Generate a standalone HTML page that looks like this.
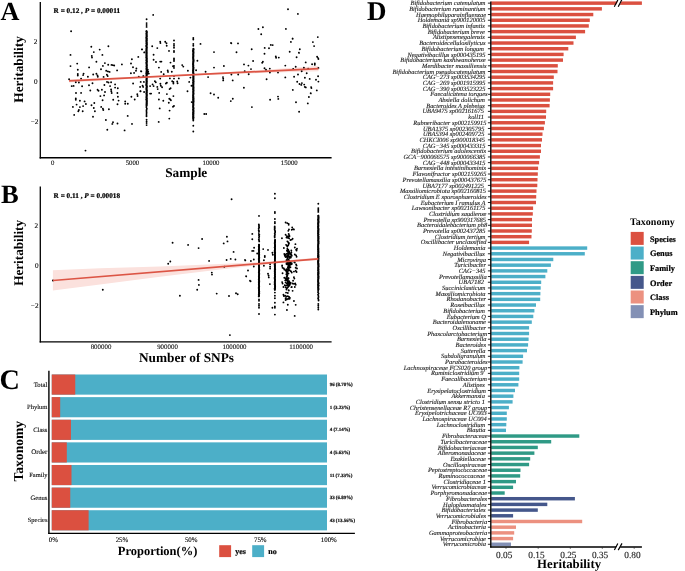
<!DOCTYPE html>
<html lang="en">
<head>
<meta charset="utf-8">
<title>Heritability figure</title>
<style>
html,body{margin:0;padding:0;background:#fff;}
body{width:685px;height:571px;overflow:hidden;}
svg{display:block;font-family:"Liberation Serif", serif;text-rendering:geometricPrecision;}
text{white-space:pre;}
</style>
</head>
<body>
<svg width="685" height="571" viewBox="0 0 685 571">
<rect x="0" y="0" width="685" height="571" fill="#fff"/>
<g id="panelA">
<text x="0.4" y="19.7" font-size="26.2" font-weight="bold" font-style="normal" text-anchor="start" fill="#000">A</text>
<polygon points="69.1,79.30 120,77.39 170,75.22 215,72.80 260,69.99 318.5,66.00 318.5,71.20 260,72.99 215,74.60 170,76.62 120,79.39 69.1,82.50" fill="#FBE1DD"/>
<path d="M71.1 31.3h0M70.5 54.9h0M70.5 66.1h0M77.2 63.6h0M77.8 69.7h0M77.8 74h0M77.8 75.5h0M83.6 73.6h0M83.1 75.1h0M87.9 76.7h0M81.1 78.6h0M69.1 79.3h0M89.1 67.4h0M91.3 46.8h0M93.8 52.1h0M91.8 55.9h0M92 57.6h0M96.4 61.8h0M99.7 49.6h0M102.4 54.9h0M108.4 46.2h0M104.9 63.1h0M102.9 65.9h0M101 69.2h0M93.2 74.5h0M96.4 73.8h0M97.5 75.5h0M97.8 76.7h0M103.6 76.9h0M106.2 70.8h0M107.9 71.4h0M109.6 71.9h0M106.9 74.8h0M107.7 76.1h0M108.2 64.7h0M111.5 64.9h0M112.7 65.1h0M114.2 65.5h0M117.1 70.4h0M121.9 64.4h0M131 63.5h0M131.9 59.3h0M133 67.3h0M136.4 68.5h0M136 70.7h0M130.9 73.3h0M134.1 72.9h0M138.3 56.9h0M142.1 49.4h0M144.2 52.4h0M141 71.3h0M138.8 76.7h0M143.2 76.1h0M75.8 82.3h0M78.9 82.5h0M71.7 86.1h0M73.6 85.9h0M82.1 86.3h0M89 85.3h0M92.5 83.2h0M76 93h0M81.1 92.9h0M90.3 90.5h0M97.6 89.8h0M98.5 90.7h0M101.9 89.8h0M104.4 85h0M105 92h0M107 81.9h0M108.5 82.5h0M111.1 82.3h0M110.1 86.1h0M111.1 89.5h0M111.3 91.3h0M111.7 93h0M115.1 84.4h0M115.1 87.6h0M117.8 88.2h0M117.4 93h0M117.9 96.8h0M118.6 100.6h0M117.5 104.3h0M113.2 99.8h0M104.1 95.4h0M100.4 96.1h0M102.6 100.2h0M75.8 98.5h0M75.8 99.8h0M79.9 100.8h0M84.6 101.4h0M85.9 104h0M76.6 104.6h0M72.9 106.9h0M79.9 107.1h0M83.1 106.1h0M78.9 110h0M78.3 111.3h0M82.7 111.3h0M74.2 114.9h0M94.3 103h0M91.5 105.2h0M93.8 108h0M94.9 111.3h0M93 116.8h0M101.2 106.9h0M102.9 108.8h0M103.3 110h0M108.9 109.3h0M105.9 120h0M113 122.2h0M112.3 123.9h0M117.5 123.5h0M107.3 129.8h0M124.6 130.4h0M127.7 115.9h0M125.2 101.4h0M125.2 103.7h0M127.8 103.7h0M131.4 96.8h0M134.7 99.5h0M137.3 94.2h0M137.6 96h0M133.1 83.5h0M140.3 91.3h0M144.1 92h0M140.7 81.9h0M143.9 81.9h0M140.1 86.9h0M142.6 85.7h0M143.2 86.9h0M132 123.9h0M85.5 150.6h0M153.2 14.9h0M141.9 49.4h0M144.4 52.4h0M152.2 46.2h0M157.3 48.1h0M160.2 41.8h0M160.4 43.1h0M165.2 41.8h0M166.5 43.3h0M166.7 45.8h0M169 50.9h0M153.6 54.7h0M153.6 59.7h0M156 62h0M160.2 61.6h0M161.4 61.6h0M170.5 62.6h0M158.9 67.6h0M161.2 71.9h0M163.7 74.2h0M167.7 70.4h0M168 71.9h0M171.8 71.7h0M173 66.3h0M182.2 65.1h0M183.3 66.6h0M187.9 70.7h0M141.3 71.4h0M147.8 69.8h0M148.2 71.7h0M147.8 73.6h0M148.8 73.6h0M143.5 76.1h0M160.2 78.6h0M169.9 78.4h0M178.8 78.4h0M190.4 77.6h0M196.1 70.2h0M197.4 60.7h0M200.5 43.9h0M205.6 71.7h0M208.1 77.1h0M214 52.1h0M214 67.6h0M223.9 66h0M223 77.1h0M223.2 78.6h0M140.6 91.3h0M150.1 86.1h0M152.6 84.4h0M153.6 86.1h0M154.9 81.3h0M155.8 82.3h0M150.1 93.6h0M151.1 93.6h0M157.3 86.9h0M157.7 89.1h0M160.4 83.8h0M160.8 85.7h0M162.1 87.3h0M165.9 83.5h0M166.9 82.8h0M170.6 88.2h0M169.6 89.1h0M172.2 81.3h0M173.4 81.9h0M173.4 83.5h0M177.2 81.5h0M177.6 83.2h0M159.2 92.9h0M166.9 94.1h0M173.4 96.1h0M158.9 99.5h0M163.3 100.8h0M169.3 98.7h0M170.3 99.5h0M170.9 100.2h0M168.8 102.7h0M174 105.9h0M173 106.7h0M159.7 108.4h0M169.6 110.6h0M169.3 118.6h0M158.7 121.9h0M189.2 81.9h0M187.5 91.3h0M191.5 85.7h0M191.7 102.1h0M210.6 93.2h0M214 94.5h0M218.2 97.7h0M204.3 114h0M206.2 114h0M223.2 80.4h0M288 9.2h0M297.9 13.9h0M262.9 27.2h0M258.4 29h0M285.9 28.9h0M261.2 34.2h0M292.6 38.7h0M290.9 41.9h0M231 42.9h0M231.3 43.2h0M238 43.4h0M270.8 44.9h0M272.7 45.1h0M264.7 47.9h0M269 48.2h0M251.7 49.2h0M299.8 49.2h0M236.5 52.3h0M289.7 51.8h0M298.9 52.7h0M264.5 53.7h0M275.8 56.4h0M276.1 57.8h0M278.8 57.6h0M296.6 57.3h0M253.1 61h0M262.9 61.8h0M262.2 62.7h0M305.7 62.4h0M244 64.4h0M248.4 65.6h0M285.3 65.6h0M295.7 66.7h0M251 69.1h0M264.5 68.2h0M266 69.7h0M269.8 68.6h0M244.7 71.2h0M293.2 69h0M303.9 67.8h0M308.2 68.7h0M301.7 71.2h0M231.4 74.5h0M238.2 74.5h0M248.7 74.3h0M269.9 72.6h0M278 72.6h0M232.7 80.4h0M266.6 79.2h0M285.3 77.4h0M294.1 76.8h0M298 74.5h0M306.7 73.3h0M304.9 77.7h0M309.7 78.9h0M243.9 87.8h0M297.2 81.8h0M299.5 84h0M301.3 84.9h0M301.9 83.1h0M304.2 84.6h0M304.8 86.9h0M305.8 87.4h0M311.1 87.1h0M311.4 88.1h0M292.8 89.9h0M310.7 93.2h0M308.9 97h0M278 96.6h0M278.3 98.9h0M270.1 99.7h0M232.8 98.7h0M230.8 101.1h0M296 102.3h0M307.8 103.4h0M251.9 107.1h0M299.1 111.7h0M317.8 37.1h0M292.7 38.7h0M312.9 42.1h0M314.1 46.1h0M299 52.9h0M317.1 56.8h0M318.1 58.1h0M318.4 59h0M312.1 64.2h0M314.8 63.4h0M314.8 64.7h0M318.4 67.9h0M318.1 76.2h0M316 79.7h0M318.4 81.6h0M316.8 90.4h0M310.8 93.4h0M146.38 31.3h0M146.81 32.05h0M146.76 32.8h0M146.45 33.55h0M146.6 34.3h0M146.57 35.05h0M146.69 35.8h0M146.77 36.55h0M146.36 37.3h0M146.32 38.05h0M146.8 38.8h0M146.56 39.55h0M146.76 40.3h0M146.3 41.05h0M146.57 41.8h0M146.73 42.55h0M146.44 43.3h0M146.87 44.05h0M146.84 44.8h0M146.32 45.55h0M146.32 46.3h0M146.62 47.05h0M146.86 47.8h0M146.53 48.55h0M146.43 49.3h0M146.55 50.05h0M146.32 50.8h0M146.43 51.55h0M146.56 52.3h0M146.6 53.05h0M146.44 53.8h0M146.44 54.55h0M146.43 55.3h0M146.58 56.05h0M146.47 56.8h0M146.31 57.55h0M146.8 58.3h0M146.63 59.05h0M146.69 59.8h0M146.41 60.55h0M146.9 61.3h0M146.82 62.05h0M146.37 62.8h0M146.5 63.55h0M146.73 64.3h0M146.73 65.05h0M146.86 65.8h0M146.55 66.55h0M146.8 67.3h0M146.7 68.05h0M146.48 68.8h0M146.65 69.55h0M146.83 70.3h0M146.81 71.05h0M146.6 71.8h0M146.65 72.55h0M146.32 73.3h0M146.45 74.05h0M146.78 74.8h0M146.55 75.55h0M146.4 76.3h0M146.63 77.05h0M146.72 77.8h0M146.7 78.55h0M146.52 79.3h0M146.56 80.05h0M146.61 80.8h0M146.77 81.55h0M146.61 82.3h0M146.54 83.05h0M146.59 83.8h0M146.32 84.55h0M146.33 85.3h0M146.72 86.05h0M146.89 86.8h0M146.66 87.55h0M146.54 88.3h0M146.4 89.05h0M146.6 89.8h0M146.89 90.55h0M146.76 91.3h0M146.62 92.05h0M146.82 92.8h0M146.44 93.55h0M146.61 94.3h0M146.87 95.05h0M146.65 95.8h0M146.58 96.55h0M146.46 97.3h0M146.63 98.05h0M146.87 98.8h0M146.3 99.55h0M146.77 100.3h0M146.79 101.05h0M146.83 101.8h0M146.74 102.55h0M146.79 103.3h0M146.61 104.05h0M146.64 104.8h0M146.56 105.8h0M146.33 107.1h0M146.82 108.4h0M146.64 109.7h0M146.42 111h0M146.6 112.3h0M146.59 113.6h0M146.51 114.9h0M146.51 116.2h0M146.6 19.3h0M146.6 23.1h0M146.6 25h0M146.6 26.9h0M146.6 119.7h0M146.6 121.6h0M146.6 123.1h0M146.6 125.1h0M174 40.5h0M174 43.9h0M174 45.8h0M174 47.7h0M174 50.9h0M174 52.1h0M174 58.4h0M174 59.7h0M174 61h0M174 66h0M174 67.9h0M174 76.1h0M174 78.6h0M193.57 49h0M193.57 49.75h0M193.03 50.5h0M193.05 51.25h0M193.5 52h0M193.44 52.75h0M193.4 53.5h0M193.18 54.25h0M193.36 55h0M193.36 55.75h0M193.35 56.5h0M193.1 57.25h0M193.26 58h0M193.24 58.75h0M193.43 59.5h0M193.6 60.25h0M193.57 61h0M193.33 61.75h0M193.27 62.5h0M193.16 63.25h0M193.02 64h0M193.02 64.75h0M193.28 65.5h0M193.19 66.25h0M193.23 67h0M193.54 67.75h0M193.32 68.5h0M193.34 69.25h0M193.14 70h0M193.01 70.75h0M193.2 71.5h0M193.08 72.25h0M193.31 73h0M193.6 73.75h0M193.4 74.5h0M193.11 75.25h0M193.54 76h0M193.48 76.75h0M193.44 77.5h0M193.54 78.25h0M193.46 79h0M193.47 79.75h0M193.21 80.5h0M193.59 81.25h0M193.58 82h0M193.1 82.75h0M193.45 83.5h0M193.43 84.25h0M193.28 85h0M193.32 85.75h0M193.29 86.5h0M193.55 87.25h0M193.3 88h0M193.5 88.75h0M193.21 89.5h0M193.53 90.25h0M193.54 91h0M193.28 91.75h0M193.34 92.5h0M193.55 93.25h0M193.43 94h0M193.29 94.75h0M193.13 95.5h0M193.19 96.25h0M193.42 97h0M193.1 97.75h0M193.54 98.5h0M193.16 99.25h0M193.55 100h0M193.19 100.75h0M193.57 101.5h0M193.42 102.25h0M193.3 103h0M193.31 103.75h0M193.39 104.5h0M193.35 105.25h0M193.19 106h0M193.12 106.75h0M193.31 107.5h0M193.56 108.25h0M193.37 109h0M193.05 109.75h0M193.49 110.5h0M193.44 111.25h0M193.54 112h0M193.11 112.75h0M193.45 113.5h0M193.04 114.25h0M193.39 115h0M193.16 115.75h0M193.14 116.5h0M193.53 117.25h0M193.06 118h0M193.31 118.75h0M193.3 38h0M193.3 39.5h0M193.3 43.9h0M193.3 45.8h0M193.3 120.6h0M193.3 125.8h0M193.3 131.5h0" stroke="#000" stroke-width="1.9" stroke-linecap="round" fill="none"/>
<line x1="146.6" y1="31" x2="146.6" y2="105.5" stroke="#000" stroke-width="1.7" stroke-linecap="round"/>
<line x1="193.3" y1="48.7" x2="193.3" y2="119.4" stroke="#000" stroke-width="1.7" stroke-linecap="round"/>
<line x1="69.1" y1="80.9" x2="318.5" y2="68.6" stroke="#DC5545" stroke-width="1.7" stroke-linecap="butt"/>
<line x1="40.3" y1="1.9" x2="40.3" y2="158.4" stroke="#000" stroke-width="1.3" stroke-linecap="butt"/>
<line x1="39.65" y1="157.75" x2="331.6" y2="157.75" stroke="#000" stroke-width="1.3" stroke-linecap="butt"/>
<text x="37.4" y="43.7" font-size="7.2" font-weight="normal" font-style="normal" text-anchor="end" fill="#000" stroke="#000" stroke-width="0.12">2</text>
<text x="37.7" y="83.9" font-size="7.2" font-weight="normal" font-style="normal" text-anchor="end" fill="#000" stroke="#000" stroke-width="0.12">0</text>
<text x="38.4" y="123.8" font-size="7.2" font-weight="normal" font-style="normal" text-anchor="end" fill="#000" stroke="#000" stroke-width="0.12">−2</text>
<text x="52.6" y="165.1" font-size="6.75" font-weight="normal" font-style="normal" text-anchor="middle" fill="#111" stroke="#111" stroke-width="0.12">0</text>
<text x="132.4" y="165.1" font-size="6.75" font-weight="normal" font-style="normal" text-anchor="middle" fill="#111" stroke="#111" stroke-width="0.12">5000</text>
<text x="211" y="165.1" font-size="6.75" font-weight="normal" font-style="normal" text-anchor="middle" fill="#111" stroke="#111" stroke-width="0.12">10000</text>
<text x="289.3" y="165.1" font-size="6.75" font-weight="normal" font-style="normal" text-anchor="middle" fill="#111" stroke="#111" stroke-width="0.12">15000</text>
<text x="23.5" y="69.4" font-size="13.3" font-weight="bold" font-style="normal" text-anchor="middle" fill="#000" transform="rotate(-90 23.5 69.4)">Heritability</text>
<text x="186.2" y="176.8" font-size="13.3" font-weight="bold" font-style="normal" text-anchor="middle" fill="#000">Sample</text>
<text x="53.6" y="13.2" font-size="7.25" font-weight="bold" stroke="#000" stroke-width="0.22">R = 0.12 , <tspan font-style="italic">P</tspan> = 0.00011</text>
</g>
<g id="panelB">
<text x="0.9" y="202.9" font-size="26.5" font-weight="bold" font-style="normal" text-anchor="start" fill="#000">B</text>
<polygon points="52.9,270.20 100,268.15 160,266.54 220,264.04 260,261.97 290,260.11 318.3,257.40 318.3,260.20 290,262.11 260,265.17 220,269.54 160,276.74 100,284.55 52.9,290.60" fill="#FBE1DD"/>
<path d="M231.6 199.3h0M52.9 280.5h0M102.8 289.8h0M172.6 242.8h0M188.1 244.9h0M202.1 239h0M198.6 248.1h0M168.2 263.8h0M170.3 261.5h0M209.1 260.9h0M226.9 236.7h0M227.5 241.4h0M223.7 243.4h0M233.6 251.9h0M226.6 260h0M230.7 258.9h0M235.4 259.5h0M245 260h0M224.3 266.8h0M211.8 272.6h0M212 274.6h0M198.6 279.9h0M198.9 284.9h0M197.2 289.8h0M179.9 295.7h0M216.7 293.6h0M229 296h0M236 293.3h0M237.7 294.2h0M248 270.5h0M246.2 276.4h0M250 280.8h0M229.9 335.1h0M252.3 233.9h0M252.3 239.3h0M254.1 247.8h0M252.2 250.9h0M253.5 250.9h0M263.2 249.1h0M268 249.9h0M257.2 253.5h0M264.8 256h0M272.4 252.8h0M272.8 254.7h0M245.3 260.4h0M250.9 261h0M253.8 259.5h0M253.8 266.5h0M248 270.6h0M246.1 276.2h0M250.6 281.3h0M263.9 260.2h0M264.8 257h0M263.9 265.8h0M270.1 264.2h0M270.1 266.7h0M270.1 268.6h0M268 273.7h0M268.6 275.5h0M268.8 277.4h0M269.9 284.1h0M272.4 307.7h0M258.84 224.5h0M259.03 225.3h0M258.92 226.1h0M259.06 226.9h0M259.08 227.7h0M258.74 228.5h0M258.71 230.3h0M259.2 231.1h0M258.86 231.9h0M258.84 234h0M259.3 234.8h0M258.98 235.6h0M259.2 236.4h0M258.99 237.2h0M259.08 239h0M258.79 239.8h0M259.08 240.6h0M259.22 241.4h0M259.01 244.6h0M259.14 245.35h0M259.1 246.1h0M258.74 246.85h0M259.15 247.6h0M259.05 248.35h0M258.88 249.1h0M258.72 249.85h0M259.22 250.6h0M258.98 251.35h0M259.13 252.1h0M259.23 252.85h0M259.13 253.6h0M259.25 254.35h0M258.94 255.1h0M259.18 255.85h0M258.97 256.6h0M259.26 257.35h0M259.23 258.1h0M258.76 258.85h0M258.78 259.6h0M258.83 260.35h0M259.28 261.1h0M258.96 261.85h0M259.08 262.6h0M258.88 263.35h0M259 264.1h0M258.93 264.85h0M258.91 265.6h0M259.05 266.35h0M259.05 267.1h0M259.24 267.85h0M259.11 268.6h0M259.26 269.35h0M259.21 270.1h0M259.29 270.85h0M259.1 271.6h0M258.8 272.35h0M259.22 273.1h0M259.28 273.85h0M259.24 274.6h0M259.04 275.35h0M259.13 276.1h0M258.83 276.85h0M259.2 277.6h0M259.04 278.35h0M258.87 279.1h0M258.74 279.85h0M259.21 280.6h0M259.29 281.35h0M258.75 282.1h0M259.18 282.85h0M258.95 283.6h0M258.79 284.35h0M258.88 285.1h0M259.16 285.85h0M259.22 286.6h0M258.73 287.35h0M259.07 288.1h0M258.73 288.85h0M259.13 289.6h0M258.9 290.35h0M259.23 291.1h0M259.29 291.85h0M259 292.6h0M259.3 293.35h0M258.89 294.1h0M258.75 294.85h0M259.06 295.6h0M258.72 296.35h0M259 215.9h0M259 299.5h0M259 300.8h0M259 303.9h0M259 305.8h0M259 307.7h0M259 314h0M274.74 226.4h0M274.66 227.2h0M274.84 228h0M274.69 228.8h0M274.64 229.6h0M274.84 230.4h0M275.15 231.2h0M275.08 232h0M275.06 232.8h0M274.73 233.6h0M274.92 234.4h0M274.77 235.2h0M274.7 236h0M274.66 236.8h0M274.73 237.6h0M275.16 240h0M275.1 240.75h0M275.08 241.5h0M275.08 242.25h0M274.72 243h0M274.79 243.75h0M274.98 244.5h0M275.04 245.25h0M275.11 246h0M275.13 246.75h0M274.65 247.5h0M274.96 248.25h0M275 249h0M274.9 249.75h0M274.71 250.5h0M274.88 251.25h0M274.65 252h0M275.16 252.75h0M275.12 253.5h0M274.93 254.25h0M274.78 255h0M275.15 255.75h0M274.94 256.5h0M275.13 257.25h0M275.11 258h0M274.91 258.75h0M274.85 259.5h0M274.96 260.25h0M274.86 261h0M274.7 261.75h0M274.78 262.5h0M275.09 263.25h0M274.63 264h0M274.63 264.75h0M274.98 265.5h0M274.77 266.25h0M274.92 267h0M274.88 267.75h0M274.81 268.5h0M275.2 269.25h0M274.72 270h0M274.85 270.75h0M274.72 271.5h0M274.98 272.25h0M274.77 273h0M274.81 273.75h0M275.05 274.5h0M274.79 275.25h0M274.94 276h0M275.14 276.75h0M274.66 277.5h0M274.64 278.25h0M274.74 279h0M275.06 279.75h0M274.97 280.5h0M274.74 281.25h0M274.8 282h0M274.71 282.75h0M274.88 283.5h0M274.63 284.25h0M275.02 285h0M275.14 285.75h0M275.17 286.5h0M275.04 287.25h0M275.18 288h0M274.61 288.75h0M274.77 289.5h0M274.9 193.8h0M274.9 198.2h0M274.9 211.9h0M274.9 213.1h0M274.9 219h0M274.9 221.9h0M274.9 223.2h0M274.9 292.6h0M274.9 295.7h0M274.9 298.2h0M274.9 302.7h0M274.9 306.4h0M274.9 307.7h0M274.9 314.6h0M318.37 215.6h0M318.45 216.3h0M318.48 217h0M318.57 217.7h0M318.44 218.4h0M318.55 219.1h0M318.02 219.8h0M318.28 220.5h0M318.57 221.2h0M318.39 221.9h0M318.54 222.6h0M318.07 223.3h0M318.28 224h0M318.15 224.7h0M318.33 225.4h0M318.34 226.1h0M318.01 226.8h0M318.13 227.5h0M318.17 228.2h0M318.55 228.9h0M318.46 229.6h0M318.1 230.3h0M318.48 231h0M318.08 231.7h0M318.37 232.4h0M318.08 233.1h0M318 233.8h0M318.52 234.5h0M318.13 235.2h0M318.13 235.9h0M318.59 236.6h0M318.52 237.3h0M318.17 238h0M318.58 238.7h0M318.32 239.4h0M318.41 240.1h0M318.12 240.8h0M318.56 241.5h0M318.41 242.2h0M318.58 242.9h0M318.54 243.6h0M318.18 244.3h0M318.22 245h0M318.1 245.7h0M318.09 246.4h0M318.04 247.1h0M318.18 247.8h0M318.36 248.5h0M318 249.2h0M318.41 249.9h0M318.2 250.6h0M318.19 251.3h0M318.49 252h0M318.29 252.7h0M318.19 253.4h0M318.29 254.1h0M318.42 254.8h0M318.03 255.5h0M318.59 256.2h0M318.01 256.9h0M318.45 257.6h0M318.51 258.3h0M318.01 259h0M318.47 259.7h0M318.22 260.4h0M318.35 261.1h0M318.01 261.8h0M318.03 262.5h0M318.11 263.2h0M318.57 263.9h0M318.12 264.6h0M318.45 265.3h0M318.56 266h0M318.57 266.7h0M318.21 267.4h0M318.21 268.1h0M318.31 268.8h0M318.47 269.5h0M318.06 270.2h0M318.45 270.9h0M318.48 271.6h0M318.52 272.3h0M318.02 273h0M318.57 273.7h0M318.05 274.4h0M318.2 275.1h0M318.37 275.8h0M318.55 276.5h0M318.2 277.2h0M318.55 277.9h0M318.33 278.6h0M318.19 279.3h0M318.19 280h0M318.11 280.7h0M318.05 281.4h0M318.09 282.1h0M318.41 282.8h0M318.6 283.5h0M318.1 284.2h0M318.03 284.9h0M318.59 285.6h0M318.32 286.3h0M318.24 287h0M318.14 287.7h0M318.36 288.4h0M318.5 289.1h0M318.27 289.8h0M318.25 291h0M318.03 292.2h0M318.55 293.4h0M318.02 294.6h0M318.3 295.8h0M318.5 297h0M318.08 298.2h0M318.44 299.4h0M318.57 300.6h0M318.3 203.7h0M318.3 208.1h0M318.3 209.3h0M318.3 210.6h0M318.3 211.9h0M318.3 303.9h0M318.3 305.8h0M318.3 307.7h0M318.3 309.6h0M285.62 222.56h0M287.37 223.17h0M288.69 223.87h0M288.69 224.75h0M292.19 227.37h0M293.06 229.12h0M291.75 229.82h0M293.94 229.56h0M288.95 229.56h0M288.25 230.87h0M285.62 234.81h0M288.69 233.94h0M289.12 235.25h0M286.94 236.12h0M288.25 236.56h0M289.56 236.12h0M286.5 237.43h0M287.81 237.87h0M289.12 238.31h0M281.95 238.31h0M292.62 238.75h0M291.75 239.62h0M290.44 240.06h0M287.37 241.37h0M288.25 242.25h0M289.12 243.12h0M288.69 244h0M295.42 244.17h0M286.06 244.87h0M286.94 245.75h0M288.25 245.31h0M287.37 246.62h0M283.87 247.93h0M294.81 247.5h0M297 248.81h0M296.12 249.68h0M296.56 250.56h0M287.37 248.81h0M288.25 249.68h0M286.94 250.56h0M288.69 251h0M287.81 251.87h0M289.12 251.43h0M291.31 250.56h0M294.81 254.5h0M296.12 255.37h0M296.56 256.68h0M284.31 254.06h0M285.62 254.5h0M286.94 253.62h0M288.25 254.5h0M290 254.06h0M291.31 254.5h0M284.75 255.81h0M286.5 256.24h0M288.25 255.81h0M290 256.24h0M291.75 255.81h0M285.62 257.12h0M287.37 257.56h0M289.12 257.12h0M290.87 257.56h0M287.37 258.87h0M288.69 259.31h0M286.5 260.18h0M289.12 260.62h0M287.81 261.49h0M287.81 262.81h0M289.12 263.68h0M290.44 263.24h0M291.75 264.12h0M294.37 262.37h0M296.12 264.56h0M282.12 265.43h0M286.5 264.12h0M288.69 264.99h0M282.12 265.94h0M282.56 267.69h0M283.87 268.56h0M287.37 264.62h0M288.69 265.94h0M290 265.06h0M291.31 264.19h0M287.81 267.25h0M289.12 268.12h0M290.44 267.25h0M294.81 262.44h0M296.56 265.5h0M295.69 267.69h0M297 268.56h0M287.37 262.44h0M289.12 262.87h0M290.44 262.44h0M286.5 263.31h0M291.75 263.31h0M288.25 263.75h0M284.31 269.44h0M285.62 270.31h0M286.94 269.87h0M288.25 270.75h0M289.56 270.31h0M290.87 271.19h0M291.75 272.5h0M282.56 273.2h0M286.5 272.06h0M287.37 272.94h0M293.94 271.62h0M295.69 270.75h0M296.56 272.06h0M286.94 274.25h0M287.37 275.56h0M286.94 276.87h0M284.31 277.75h0M285.62 278.19h0M286.94 278.19h0M288.25 278.62h0M293.94 277.31h0M294.37 278.62h0M285.19 280.37h0M286.5 279.94h0M287.81 280.81h0M289.12 281.25h0M282.12 282.12h0M282.56 283.43h0M285.62 282.56h0M286.94 283.43h0M288.25 283h0M289.56 282.56h0M290.44 283.87h0M293.06 280.81h0M292.62 283.43h0M293.94 283.87h0M295.25 283.43h0M295.69 284.75h0M284.75 285.18h0M286.06 285.62h0M287.37 285.18h0M288.69 286.06h0M289.56 285.18h0M283.44 286.93h0M285.62 287.37h0M286.94 288.25h0M286.5 289.56h0M291.75 286.93h0M294.81 286.93h0M292.62 290.87h0M286.06 292.62h0M287.81 293.06h0M283.44 294.81h0M283.87 296.12h0M285.19 295.68h0M286.5 296.56h0M287.81 296.12h0M289.12 297h0M290 297.87h0M285.62 298.31h0M286.94 299.18h0M288.25 298.75h0M289.56 298.75h0M285.62 300.06h0M293.94 300.93h0M283.44 302.42h0M287.81 304.69h0M295.69 304.87h0M286.94 309.94h0M294.7 315.9h0M286.45 289.18h0M288.22 278.18h0M286.34 271.43h0M287.73 279.29h0M286.46 269.26h0M286.38 274.28h0M289.49 283.64h0M288.88 268.01h0M290.63 282.69h0M287.48 281.77h0M287.91 279.68h0M287.96 268.43h0M288.1 267.72h0M288.56 278.13h0M285.83 279.46h0M288.57 282.37h0M286.18 277.98h0M287.8 273.68h0M291.43 287.17h0M287.75 283.99h0M287.48 273.94h0M288.53 268.69h0M287.91 287.32h0M286.69 276.28h0M289.86 267.01h0M287.24 272.03h0M288.85 290.53h0M287.14 276.54h0M289.19 285.68h0M288.49 273.47h0M288.64 290.14h0M288.31 285.19h0M288.41 269.43h0M288.36 268.44h0M288.44 256.71h0M287.42 255.37h0M288.97 251.57h0M290.16 257.72h0M289.21 252.55h0M289.11 253.24h0M290.51 253.65h0M287.77 260.62h0M288.52 260.25h0M289.46 257.7h0M291.36 252.56h0M290.51 253.1h0M288.36 253.56h0M287.05 250.88h0" stroke="#000" stroke-width="1.9" stroke-linecap="round" fill="none"/>
<line x1="259.0" y1="244.6" x2="259.0" y2="296.4" stroke="#000" stroke-width="1.7" stroke-linecap="round"/>
<line x1="274.9" y1="240" x2="274.9" y2="290" stroke="#000" stroke-width="1.7" stroke-linecap="round"/>
<line x1="318.3" y1="215.6" x2="318.3" y2="290" stroke="#000" stroke-width="1.7" stroke-linecap="round"/>
<line x1="52.9" y1="280.5" x2="318.3" y2="258.8" stroke="#DC5545" stroke-width="1.7" stroke-linecap="butt"/>
<line x1="40.3" y1="186.6" x2="40.3" y2="342.45" stroke="#000" stroke-width="1.3" stroke-linecap="butt"/>
<line x1="39.65" y1="341.8" x2="331.6" y2="341.8" stroke="#000" stroke-width="1.3" stroke-linecap="butt"/>
<text x="38.2" y="228.0" font-size="7.2" font-weight="normal" font-style="normal" text-anchor="end" fill="#000" stroke="#000" stroke-width="0.12">2</text>
<text x="38.5" y="267.9" font-size="7.2" font-weight="normal" font-style="normal" text-anchor="end" fill="#000" stroke="#000" stroke-width="0.12">0</text>
<text x="38.5" y="308.1" font-size="7.2" font-weight="normal" font-style="normal" text-anchor="end" fill="#000" stroke="#000" stroke-width="0.12">−2</text>
<text x="101" y="348.9" font-size="6.9" font-weight="normal" font-style="normal" text-anchor="middle" fill="#111" stroke="#111" stroke-width="0.12">800000</text>
<text x="167.5" y="348.9" font-size="6.9" font-weight="normal" font-style="normal" text-anchor="middle" fill="#111" stroke="#111" stroke-width="0.12">900000</text>
<text x="234.5" y="348.9" font-size="6.9" font-weight="normal" font-style="normal" text-anchor="middle" fill="#111" stroke="#111" stroke-width="0.12">1000000</text>
<text x="301.1" y="348.9" font-size="6.9" font-weight="normal" font-style="normal" text-anchor="middle" fill="#111" stroke="#111" stroke-width="0.12">1100000</text>
<text x="23.5" y="252.9" font-size="13.2" font-weight="bold" font-style="normal" text-anchor="middle" fill="#000" transform="rotate(-90 23.5 252.9)">Heritability</text>
<text x="186.5" y="361.9" font-size="13.3" font-weight="bold" font-style="normal" text-anchor="middle" fill="#000">Number of SNPs</text>
<text x="53.6" y="197.9" font-size="7.25" font-weight="bold" stroke="#000" stroke-width="0.22">R = 0.11 , <tspan font-style="italic">P</tspan> = 0.00018</text>
</g>
<g id="panelC">
<text x="-0.5" y="388.9" font-size="28.2" font-weight="bold" font-style="normal" text-anchor="start" fill="#000">C</text>
<rect x="51.75" y="374.50" width="275.25" height="20.15" fill="#4CAFC8"/>
<rect x="51.75" y="374.50" width="23.50" height="20.15" fill="#DB5040"/>
<text x="47.4" y="386.5" font-size="6.7" font-weight="normal" font-style="normal" text-anchor="end" fill="#111" stroke="#111" stroke-width="0.12">Total</text>
<text x="329.7" y="386.25" font-size="4.95" font-weight="bold" font-style="normal" text-anchor="start" fill="#111" stroke="#111" stroke-width="0.2">96 (8.70%)</text>
<rect x="51.75" y="397.12" width="275.25" height="20.15" fill="#4CAFC8"/>
<rect x="51.75" y="397.12" width="8.44" height="20.15" fill="#DB5040"/>
<text x="47.4" y="409.12" font-size="6.55" font-weight="normal" font-style="normal" text-anchor="end" fill="#111" stroke="#111" stroke-width="0.12">Phylum</text>
<text x="329.7" y="408.87" font-size="4.95" font-weight="bold" font-style="normal" text-anchor="start" fill="#111" stroke="#111" stroke-width="0.2">1 (3.23%)</text>
<rect x="51.75" y="419.74" width="275.25" height="20.15" fill="#4CAFC8"/>
<rect x="51.75" y="419.74" width="19.20" height="20.15" fill="#DB5040"/>
<text x="47.4" y="431.74" font-size="6.55" font-weight="normal" font-style="normal" text-anchor="end" fill="#111" stroke="#111" stroke-width="0.12">Class</text>
<text x="329.7" y="431.49" font-size="4.95" font-weight="bold" font-style="normal" text-anchor="start" fill="#111" stroke="#111" stroke-width="0.2">4 (7.14%)</text>
<rect x="51.75" y="442.36" width="275.25" height="20.15" fill="#4CAFC8"/>
<rect x="51.75" y="442.36" width="15.05" height="20.15" fill="#DB5040"/>
<text x="47.4" y="454.36" font-size="6.95" font-weight="normal" font-style="normal" text-anchor="end" fill="#111" stroke="#111" stroke-width="0.12">Order</text>
<text x="329.7" y="454.11" font-size="4.95" font-weight="bold" font-style="normal" text-anchor="start" fill="#111" stroke="#111" stroke-width="0.2">4 (5.63%)</text>
<rect x="51.75" y="464.98" width="275.25" height="20.15" fill="#4CAFC8"/>
<rect x="51.75" y="464.98" width="19.73" height="20.15" fill="#DB5040"/>
<text x="47.4" y="476.98" font-size="6.4" font-weight="normal" font-style="normal" text-anchor="end" fill="#111" stroke="#111" stroke-width="0.12">Family</text>
<text x="329.7" y="476.73" font-size="4.95" font-weight="bold" font-style="normal" text-anchor="start" fill="#111" stroke="#111" stroke-width="0.2">11 (7.33%)</text>
<rect x="51.75" y="487.60" width="275.25" height="20.15" fill="#4CAFC8"/>
<rect x="51.75" y="487.60" width="18.51" height="20.15" fill="#DB5040"/>
<text x="47.4" y="499.6" font-size="6.65" font-weight="normal" font-style="normal" text-anchor="end" fill="#111" stroke="#111" stroke-width="0.12">Genus</text>
<text x="329.7" y="499.35" font-size="4.95" font-weight="bold" font-style="normal" text-anchor="start" fill="#111" stroke="#111" stroke-width="0.2">33 (6.89%)</text>
<rect x="51.75" y="510.22" width="275.25" height="20.15" fill="#4CAFC8"/>
<rect x="51.75" y="510.22" width="36.87" height="20.15" fill="#DB5040"/>
<text x="47.4" y="522.22" font-size="6.45" font-weight="normal" font-style="normal" text-anchor="end" fill="#111" stroke="#111" stroke-width="0.12">Species</text>
<text x="329.7" y="521.97" font-size="4.95" font-weight="bold" font-style="normal" text-anchor="start" fill="#111" stroke="#111" stroke-width="0.2">43 (13.56%)</text>
<line x1="48.9" y1="370.8" x2="48.9" y2="534.1" stroke="#000" stroke-width="1.4" stroke-linecap="butt"/>
<line x1="48.2" y1="533.4" x2="354.9" y2="533.4" stroke="#000" stroke-width="1.4" stroke-linecap="butt"/>
<text x="53.4" y="541.9" font-size="6.9" font-weight="normal" font-style="normal" text-anchor="middle" fill="#000" stroke="#000" stroke-width="0.12">0%</text>
<text x="122.0" y="541.9" font-size="6.9" font-weight="normal" font-style="normal" text-anchor="middle" fill="#000" stroke="#000" stroke-width="0.12">25%</text>
<text x="191.2" y="541.9" font-size="6.9" font-weight="normal" font-style="normal" text-anchor="middle" fill="#000" stroke="#000" stroke-width="0.12">50%</text>
<text x="260.3" y="541.9" font-size="6.9" font-weight="normal" font-style="normal" text-anchor="middle" fill="#000" stroke="#000" stroke-width="0.12">75%</text>
<text x="328.8" y="541.9" font-size="6.9" font-weight="normal" font-style="normal" text-anchor="middle" fill="#000" stroke="#000" stroke-width="0.12">100%</text>
<text x="23.0" y="451.2" font-size="13.6" font-weight="bold" font-style="normal" text-anchor="middle" fill="#000" transform="rotate(-90 23.0 451.2)">Taxonomy</text>
<text x="157.6" y="555.0" font-size="12.5" font-weight="bold" font-style="normal" text-anchor="middle" fill="#000">Proportion(%)</text>
<rect x="219.20" y="545.20" width="11.90" height="11.90" fill="#DB5040"/>
<text x="235.3" y="554.0" font-size="8" font-weight="bold" font-style="normal" text-anchor="start" fill="#000" stroke="#000" stroke-width="0.2">yes</text>
<rect x="252.20" y="545.20" width="11.90" height="11.90" fill="#4CAFC8"/>
<text x="268.2" y="554.0" font-size="8" font-weight="bold" font-style="normal" text-anchor="start" fill="#000" stroke="#000" stroke-width="0.2">no</text>
</g>
<g id="panelD">
<text x="367.0" y="20.0" font-size="27" font-weight="bold" font-style="normal" text-anchor="start" fill="#000">D</text>
<rect x="491.20" y="1.42" width="150.70" height="3.45" fill="#DB5040"/>
<line x1="487.9" y1="3.15" x2="490.8" y2="3.15" stroke="#000" stroke-width="0.85" stroke-linecap="butt"/>
<text x="485.5" y="5.25" font-size="6.41" font-weight="normal" font-style="italic" text-anchor="end" fill="#222" stroke="#222" stroke-width="0.12">Bifidobacterium catenulatum</text>
<rect x="491.20" y="7.12" width="110.70" height="3.45" fill="#DB5040"/>
<line x1="487.9" y1="8.85" x2="490.8" y2="8.85" stroke="#000" stroke-width="0.85" stroke-linecap="butt"/>
<text x="485.5" y="10.95" font-size="6.41" font-weight="normal" font-style="italic" text-anchor="end" fill="#222" stroke="#222" stroke-width="0.12">Bifidobacterium ruminantium</text>
<rect x="491.20" y="12.82" width="102.10" height="3.45" fill="#DB5040"/>
<line x1="487.9" y1="14.54" x2="490.8" y2="14.54" stroke="#000" stroke-width="0.85" stroke-linecap="butt"/>
<text x="486.14" y="16.64" font-size="6.41" font-weight="normal" font-style="italic" text-anchor="end" fill="#222" stroke="#222" stroke-width="0.12">Haemophiluparainfluenzae</text>
<rect x="491.20" y="18.51" width="98.60" height="3.45" fill="#DB5040"/>
<line x1="487.9" y1="20.24" x2="490.8" y2="20.24" stroke="#000" stroke-width="0.85" stroke-linecap="butt"/>
<text x="485.5" y="22.34" font-size="6.41" font-weight="normal" font-style="italic" text-anchor="end" fill="#222" stroke="#222" stroke-width="0.12">Holdemania sp900120005</text>
<rect x="491.20" y="24.21" width="97.60" height="3.45" fill="#DB5040"/>
<line x1="487.9" y1="25.93" x2="490.8" y2="25.93" stroke="#000" stroke-width="0.85" stroke-linecap="butt"/>
<text x="484.86" y="28.03" font-size="6.41" font-weight="normal" font-style="italic" text-anchor="end" fill="#222" stroke="#222" stroke-width="0.12">Bifidobacterium infantis</text>
<rect x="491.20" y="29.90" width="93.90" height="3.45" fill="#DB5040"/>
<line x1="487.9" y1="31.63" x2="490.8" y2="31.63" stroke="#000" stroke-width="0.85" stroke-linecap="butt"/>
<text x="484.86" y="33.73" font-size="6.41" font-weight="normal" font-style="italic" text-anchor="end" fill="#222" stroke="#222" stroke-width="0.12">Bifidobacterium breve</text>
<rect x="491.20" y="35.60" width="84.70" height="3.45" fill="#DB5040"/>
<line x1="487.9" y1="37.33" x2="490.8" y2="37.33" stroke="#000" stroke-width="0.85" stroke-linecap="butt"/>
<text x="484.86" y="39.43" font-size="6.41" font-weight="normal" font-style="italic" text-anchor="end" fill="#222" stroke="#222" stroke-width="0.12">Alistipesenegalensis</text>
<rect x="491.20" y="41.30" width="82.30" height="3.45" fill="#DB5040"/>
<line x1="487.9" y1="43.02" x2="490.8" y2="43.02" stroke="#000" stroke-width="0.85" stroke-linecap="butt"/>
<text x="485.5" y="45.12" font-size="6.41" font-weight="normal" font-style="italic" text-anchor="end" fill="#222" stroke="#222" stroke-width="0.12">Bacteroidecellulosilyticus</text>
<rect x="491.20" y="46.99" width="77.10" height="3.45" fill="#DB5040"/>
<line x1="487.9" y1="48.72" x2="490.8" y2="48.72" stroke="#000" stroke-width="0.85" stroke-linecap="butt"/>
<text x="483.89" y="50.82" font-size="6.41" font-weight="normal" font-style="italic" text-anchor="end" fill="#222" stroke="#222" stroke-width="0.12">Bifidobacterium longum</text>
<rect x="491.20" y="52.69" width="72.40" height="3.45" fill="#DB5040"/>
<line x1="487.9" y1="54.41" x2="490.8" y2="54.41" stroke="#000" stroke-width="0.85" stroke-linecap="butt"/>
<text x="485.5" y="56.51" font-size="6.41" font-weight="normal" font-style="italic" text-anchor="end" fill="#222" stroke="#222" stroke-width="0.12">Negativibacillus sp000435195</text>
<rect x="491.20" y="58.38" width="71.80" height="3.45" fill="#DB5040"/>
<line x1="487.9" y1="60.11" x2="490.8" y2="60.11" stroke="#000" stroke-width="0.85" stroke-linecap="butt"/>
<text x="485.5" y="62.21" font-size="6.41" font-weight="normal" font-style="italic" text-anchor="end" fill="#222" stroke="#222" stroke-width="0.12">Bifidobacterium kashiwanohense</text>
<rect x="491.20" y="64.08" width="66.60" height="3.45" fill="#DB5040"/>
<line x1="487.9" y1="65.81" x2="490.8" y2="65.81" stroke="#000" stroke-width="0.85" stroke-linecap="butt"/>
<text x="486.47" y="67.91" font-size="6.41" font-weight="normal" font-style="italic" text-anchor="end" fill="#222" stroke="#222" stroke-width="0.12">Merdibacter massiliensis</text>
<rect x="491.20" y="69.78" width="66.30" height="3.45" fill="#DB5040"/>
<line x1="487.9" y1="71.5" x2="490.8" y2="71.5" stroke="#000" stroke-width="0.85" stroke-linecap="butt"/>
<text x="485.5" y="73.6" font-size="6.41" font-weight="normal" font-style="italic" text-anchor="end" fill="#222" stroke="#222" stroke-width="0.12">Bifidobacterium pseudocatenulatum</text>
<rect x="491.20" y="75.47" width="62.60" height="3.45" fill="#DB5040"/>
<line x1="487.9" y1="77.2" x2="490.8" y2="77.2" stroke="#000" stroke-width="0.85" stroke-linecap="butt"/>
<text x="485.5" y="79.3" font-size="6.41" font-weight="normal" font-style="italic" text-anchor="end" fill="#222" stroke="#222" stroke-width="0.12">CAG−273 sp003534295</text>
<rect x="491.20" y="81.17" width="61.90" height="3.45" fill="#DB5040"/>
<line x1="487.9" y1="82.89" x2="490.8" y2="82.89" stroke="#000" stroke-width="0.85" stroke-linecap="butt"/>
<text x="485.5" y="84.99" font-size="6.41" font-weight="normal" font-style="italic" text-anchor="end" fill="#222" stroke="#222" stroke-width="0.12">CAG−269 sp001915995</text>
<rect x="491.20" y="86.87" width="61.90" height="3.45" fill="#DB5040"/>
<line x1="487.9" y1="88.59" x2="490.8" y2="88.59" stroke="#000" stroke-width="0.85" stroke-linecap="butt"/>
<text x="485.5" y="90.69" font-size="6.41" font-weight="normal" font-style="italic" text-anchor="end" fill="#222" stroke="#222" stroke-width="0.12">CAG−390 sp003523225</text>
<rect x="491.20" y="92.56" width="59.00" height="3.45" fill="#DB5040"/>
<line x1="487.9" y1="94.29" x2="490.8" y2="94.29" stroke="#000" stroke-width="0.85" stroke-linecap="butt"/>
<text x="487.59" y="96.39" font-size="6.41" font-weight="normal" font-style="italic" text-anchor="end" fill="#222" stroke="#222" stroke-width="0.12">Faecalicatena torques</text>
<rect x="491.20" y="98.26" width="58.70" height="3.45" fill="#DB5040"/>
<line x1="487.9" y1="99.98" x2="490.8" y2="99.98" stroke="#000" stroke-width="0.85" stroke-linecap="butt"/>
<text x="484.86" y="102.08" font-size="6.41" font-weight="normal" font-style="italic" text-anchor="end" fill="#222" stroke="#222" stroke-width="0.12">Absiella dolichum</text>
<rect x="491.20" y="103.95" width="58.40" height="3.45" fill="#DB5040"/>
<line x1="487.9" y1="105.68" x2="490.8" y2="105.68" stroke="#000" stroke-width="0.85" stroke-linecap="butt"/>
<text x="484.86" y="107.78" font-size="6.41" font-weight="normal" font-style="italic" text-anchor="end" fill="#222" stroke="#222" stroke-width="0.12">Bacteroides A plebeius</text>
<rect x="491.20" y="109.65" width="55.00" height="3.45" fill="#DB5040"/>
<line x1="487.9" y1="111.37" x2="490.8" y2="111.37" stroke="#000" stroke-width="0.85" stroke-linecap="butt"/>
<text x="483.89" y="113.47" font-size="6.41" font-weight="normal" font-style="italic" text-anchor="end" fill="#222" stroke="#222" stroke-width="0.12">UBA9475 sp002161675</text>
<rect x="491.20" y="115.34" width="54.80" height="3.45" fill="#DB5040"/>
<line x1="487.9" y1="117.07" x2="490.8" y2="117.07" stroke="#000" stroke-width="0.85" stroke-linecap="butt"/>
<text x="483.89" y="119.17" font-size="6.41" font-weight="normal" font-style="italic" text-anchor="end" fill="#222" stroke="#222" stroke-width="0.12">koll11</text>
<rect x="491.20" y="121.04" width="53.70" height="3.45" fill="#DB5040"/>
<line x1="487.9" y1="122.77" x2="490.8" y2="122.77" stroke="#000" stroke-width="0.85" stroke-linecap="butt"/>
<text x="486.47" y="124.87" font-size="6.41" font-weight="normal" font-style="italic" text-anchor="end" fill="#222" stroke="#222" stroke-width="0.12">Rubneribacter sp002159915</text>
<rect x="491.20" y="126.74" width="52.70" height="3.45" fill="#DB5040"/>
<line x1="487.9" y1="128.46" x2="490.8" y2="128.46" stroke="#000" stroke-width="0.85" stroke-linecap="butt"/>
<text x="484.37" y="130.56" font-size="6.41" font-weight="normal" font-style="italic" text-anchor="end" fill="#222" stroke="#222" stroke-width="0.12">UBA1375 sp002305795</text>
<rect x="491.20" y="132.43" width="51.30" height="3.45" fill="#DB5040"/>
<line x1="487.9" y1="134.16" x2="490.8" y2="134.16" stroke="#000" stroke-width="0.85" stroke-linecap="butt"/>
<text x="484.37" y="136.26" font-size="6.41" font-weight="normal" font-style="italic" text-anchor="end" fill="#222" stroke="#222" stroke-width="0.12">UBA5394 sp002409725</text>
<rect x="491.20" y="138.13" width="50.80" height="3.45" fill="#DB5040"/>
<line x1="487.9" y1="139.85" x2="490.8" y2="139.85" stroke="#000" stroke-width="0.85" stroke-linecap="butt"/>
<text x="484.86" y="141.95" font-size="6.41" font-weight="normal" font-style="italic" text-anchor="end" fill="#222" stroke="#222" stroke-width="0.12">CHKCI006 sp900018345</text>
<rect x="491.20" y="143.83" width="49.80" height="3.45" fill="#DB5040"/>
<line x1="487.9" y1="145.55" x2="490.8" y2="145.55" stroke="#000" stroke-width="0.85" stroke-linecap="butt"/>
<text x="485.5" y="147.65" font-size="6.41" font-weight="normal" font-style="italic" text-anchor="end" fill="#222" stroke="#222" stroke-width="0.12">CAG−345 sp000433315</text>
<rect x="491.20" y="149.52" width="49.80" height="3.45" fill="#DB5040"/>
<line x1="487.9" y1="151.25" x2="490.8" y2="151.25" stroke="#000" stroke-width="0.85" stroke-linecap="butt"/>
<text x="485.98" y="153.35" font-size="6.41" font-weight="normal" font-style="italic" text-anchor="end" fill="#222" stroke="#222" stroke-width="0.12">Bifidobacterium adolescentis</text>
<rect x="491.20" y="155.22" width="48.70" height="3.45" fill="#DB5040"/>
<line x1="487.9" y1="156.94" x2="490.8" y2="156.94" stroke="#000" stroke-width="0.85" stroke-linecap="butt"/>
<text x="485.5" y="159.04" font-size="6.41" font-weight="normal" font-style="italic" text-anchor="end" fill="#222" stroke="#222" stroke-width="0.12">GCA−900066575 sp900066385</text>
<rect x="491.20" y="160.91" width="47.90" height="3.45" fill="#DB5040"/>
<line x1="487.9" y1="162.64" x2="490.8" y2="162.64" stroke="#000" stroke-width="0.85" stroke-linecap="butt"/>
<text x="485.5" y="164.74" font-size="6.41" font-weight="normal" font-style="italic" text-anchor="end" fill="#222" stroke="#222" stroke-width="0.12">CAG−448 sp000433415</text>
<rect x="491.20" y="166.61" width="46.90" height="3.45" fill="#DB5040"/>
<line x1="487.9" y1="168.33" x2="490.8" y2="168.33" stroke="#000" stroke-width="0.85" stroke-linecap="butt"/>
<text x="485.98" y="170.43" font-size="6.41" font-weight="normal" font-style="italic" text-anchor="end" fill="#222" stroke="#222" stroke-width="0.12">Barnesiella intestinihominis</text>
<rect x="491.20" y="172.31" width="46.60" height="3.45" fill="#DB5040"/>
<line x1="487.9" y1="174.03" x2="490.8" y2="174.03" stroke="#000" stroke-width="0.85" stroke-linecap="butt"/>
<text x="486.47" y="176.13" font-size="6.41" font-weight="normal" font-style="italic" text-anchor="end" fill="#222" stroke="#222" stroke-width="0.12">Flavonifractor sp002159265</text>
<rect x="491.20" y="178.00" width="46.30" height="3.45" fill="#DB5040"/>
<line x1="487.9" y1="179.73" x2="490.8" y2="179.73" stroke="#000" stroke-width="0.85" stroke-linecap="butt"/>
<text x="486.47" y="181.83" font-size="6.41" font-weight="normal" font-style="italic" text-anchor="end" fill="#222" stroke="#222" stroke-width="0.12">Prevotellamassilia sp000437675</text>
<rect x="491.20" y="183.70" width="46.10" height="3.45" fill="#DB5040"/>
<line x1="487.9" y1="185.42" x2="490.8" y2="185.42" stroke="#000" stroke-width="0.85" stroke-linecap="butt"/>
<text x="483.89" y="187.52" font-size="6.41" font-weight="normal" font-style="italic" text-anchor="end" fill="#222" stroke="#222" stroke-width="0.12">UBA7177 sp002491225</text>
<rect x="491.20" y="189.39" width="45.30" height="3.45" fill="#DB5040"/>
<line x1="487.9" y1="191.12" x2="490.8" y2="191.12" stroke="#000" stroke-width="0.85" stroke-linecap="butt"/>
<text x="485.98" y="193.22" font-size="6.41" font-weight="normal" font-style="italic" text-anchor="end" fill="#222" stroke="#222" stroke-width="0.12">Massiliomicrobiota sp002160815</text>
<rect x="491.20" y="195.09" width="45.00" height="3.45" fill="#DB5040"/>
<line x1="487.9" y1="196.81" x2="490.8" y2="196.81" stroke="#000" stroke-width="0.85" stroke-linecap="butt"/>
<text x="486.47" y="198.91" font-size="6.41" font-weight="normal" font-style="italic" text-anchor="end" fill="#222" stroke="#222" stroke-width="0.12">Clostridium E sporosphaeroides</text>
<rect x="491.20" y="200.78" width="44.80" height="3.45" fill="#DB5040"/>
<line x1="487.9" y1="202.51" x2="490.8" y2="202.51" stroke="#000" stroke-width="0.85" stroke-linecap="butt"/>
<text x="485.5" y="204.61" font-size="6.41" font-weight="normal" font-style="italic" text-anchor="end" fill="#222" stroke="#222" stroke-width="0.12">Eubacterium I ramulus A</text>
<rect x="491.20" y="206.48" width="41.90" height="3.45" fill="#DB5040"/>
<line x1="487.9" y1="208.21" x2="490.8" y2="208.21" stroke="#000" stroke-width="0.85" stroke-linecap="butt"/>
<text x="485.5" y="210.31" font-size="6.41" font-weight="normal" font-style="italic" text-anchor="end" fill="#222" stroke="#222" stroke-width="0.12">Lawsonibacter sp002161175</text>
<rect x="491.20" y="212.18" width="41.60" height="3.45" fill="#DB5040"/>
<line x1="487.9" y1="213.9" x2="490.8" y2="213.9" stroke="#000" stroke-width="0.85" stroke-linecap="butt"/>
<text x="486.47" y="216.0" font-size="6.41" font-weight="normal" font-style="italic" text-anchor="end" fill="#222" stroke="#222" stroke-width="0.12">Clostridium saudiense</text>
<rect x="491.20" y="217.87" width="40.80" height="3.45" fill="#DB5040"/>
<line x1="487.9" y1="219.6" x2="490.8" y2="219.6" stroke="#000" stroke-width="0.85" stroke-linecap="butt"/>
<text x="485.98" y="221.7" font-size="6.41" font-weight="normal" font-style="italic" text-anchor="end" fill="#222" stroke="#222" stroke-width="0.12">Prevotella sp900317685</text>
<rect x="491.20" y="223.57" width="40.80" height="3.45" fill="#DB5040"/>
<line x1="487.9" y1="225.29" x2="490.8" y2="225.29" stroke="#000" stroke-width="0.85" stroke-linecap="butt"/>
<text x="487.11" y="227.39" font-size="6.41" font-weight="normal" font-style="italic" text-anchor="end" fill="#222" stroke="#222" stroke-width="0.12">Bacteroidalebacterium ph8</text>
<rect x="491.20" y="229.26" width="40.60" height="3.45" fill="#DB5040"/>
<line x1="487.9" y1="230.99" x2="490.8" y2="230.99" stroke="#000" stroke-width="0.85" stroke-linecap="butt"/>
<text x="485.5" y="233.09" font-size="6.41" font-weight="normal" font-style="italic" text-anchor="end" fill="#222" stroke="#222" stroke-width="0.12">Prevotella sp002437285</text>
<rect x="491.20" y="234.96" width="40.30" height="3.45" fill="#DB5040"/>
<line x1="487.9" y1="236.69" x2="490.8" y2="236.69" stroke="#000" stroke-width="0.85" stroke-linecap="butt"/>
<text x="485.5" y="238.79" font-size="6.41" font-weight="normal" font-style="italic" text-anchor="end" fill="#222" stroke="#222" stroke-width="0.12">Clostridium tertium</text>
<rect x="491.20" y="240.66" width="37.90" height="3.45" fill="#DB5040"/>
<line x1="487.9" y1="242.38" x2="490.8" y2="242.38" stroke="#000" stroke-width="0.85" stroke-linecap="butt"/>
<text x="486.47" y="244.48" font-size="6.41" font-weight="normal" font-style="italic" text-anchor="end" fill="#222" stroke="#222" stroke-width="0.12">Oscillibacter unclassified</text>
<rect x="491.20" y="246.35" width="96.00" height="3.45" fill="#4CAFC8"/>
<line x1="487.9" y1="248.08" x2="490.8" y2="248.08" stroke="#000" stroke-width="0.85" stroke-linecap="butt"/>
<text x="485.5" y="250.18" font-size="6.41" font-weight="normal" font-style="italic" text-anchor="end" fill="#222" stroke="#222" stroke-width="0.12">Holdemania</text>
<rect x="491.20" y="252.05" width="93.60" height="3.45" fill="#4CAFC8"/>
<line x1="487.9" y1="253.77" x2="490.8" y2="253.77" stroke="#000" stroke-width="0.85" stroke-linecap="butt"/>
<text x="484.86" y="255.87" font-size="6.41" font-weight="normal" font-style="italic" text-anchor="end" fill="#222" stroke="#222" stroke-width="0.12">Negativibacillus</text>
<rect x="491.20" y="257.74" width="62.10" height="3.45" fill="#4CAFC8"/>
<line x1="487.9" y1="259.47" x2="490.8" y2="259.47" stroke="#000" stroke-width="0.85" stroke-linecap="butt"/>
<text x="485.98" y="261.57" font-size="6.41" font-weight="normal" font-style="italic" text-anchor="end" fill="#222" stroke="#222" stroke-width="0.12">Microvirga</text>
<rect x="491.20" y="263.44" width="59.70" height="3.45" fill="#4CAFC8"/>
<line x1="487.9" y1="265.17" x2="490.8" y2="265.17" stroke="#000" stroke-width="0.85" stroke-linecap="butt"/>
<text x="485.98" y="267.27" font-size="6.41" font-weight="normal" font-style="italic" text-anchor="end" fill="#222" stroke="#222" stroke-width="0.12">Turicibacter</text>
<rect x="491.20" y="269.14" width="56.10" height="3.45" fill="#4CAFC8"/>
<line x1="487.9" y1="270.86" x2="490.8" y2="270.86" stroke="#000" stroke-width="0.85" stroke-linecap="butt"/>
<text x="485.5" y="272.96" font-size="6.41" font-weight="normal" font-style="italic" text-anchor="end" fill="#222" stroke="#222" stroke-width="0.12">CAG−345</text>
<rect x="491.20" y="274.83" width="54.20" height="3.45" fill="#4CAFC8"/>
<line x1="487.9" y1="276.56" x2="490.8" y2="276.56" stroke="#000" stroke-width="0.85" stroke-linecap="butt"/>
<text x="486.79" y="278.66" font-size="6.41" font-weight="normal" font-style="italic" text-anchor="end" fill="#222" stroke="#222" stroke-width="0.12">Prevotellamassilia</text>
<rect x="491.20" y="280.53" width="50.00" height="3.45" fill="#4CAFC8"/>
<line x1="487.9" y1="282.25" x2="490.8" y2="282.25" stroke="#000" stroke-width="0.85" stroke-linecap="butt"/>
<text x="483.89" y="284.35" font-size="6.41" font-weight="normal" font-style="italic" text-anchor="end" fill="#222" stroke="#222" stroke-width="0.12">UBA7182</text>
<rect x="491.20" y="286.22" width="49.50" height="3.45" fill="#4CAFC8"/>
<line x1="487.9" y1="287.95" x2="490.8" y2="287.95" stroke="#000" stroke-width="0.85" stroke-linecap="butt"/>
<text x="485.5" y="290.05" font-size="6.41" font-weight="normal" font-style="italic" text-anchor="end" fill="#222" stroke="#222" stroke-width="0.12">Succiniclasticum</text>
<rect x="491.20" y="291.92" width="49.20" height="3.45" fill="#4CAFC8"/>
<line x1="487.9" y1="293.65" x2="490.8" y2="293.65" stroke="#000" stroke-width="0.85" stroke-linecap="butt"/>
<text x="485.5" y="295.75" font-size="6.41" font-weight="normal" font-style="italic" text-anchor="end" fill="#222" stroke="#222" stroke-width="0.12">Massiliomicrobiota</text>
<rect x="491.20" y="297.62" width="49.00" height="3.45" fill="#4CAFC8"/>
<line x1="487.9" y1="299.34" x2="490.8" y2="299.34" stroke="#000" stroke-width="0.85" stroke-linecap="butt"/>
<text x="485.98" y="301.44" font-size="6.41" font-weight="normal" font-style="italic" text-anchor="end" fill="#222" stroke="#222" stroke-width="0.12">Rhodanobacter</text>
<rect x="491.20" y="303.31" width="44.80" height="3.45" fill="#4CAFC8"/>
<line x1="487.9" y1="305.04" x2="490.8" y2="305.04" stroke="#000" stroke-width="0.85" stroke-linecap="butt"/>
<text x="484.86" y="307.14" font-size="6.41" font-weight="normal" font-style="italic" text-anchor="end" fill="#222" stroke="#222" stroke-width="0.12">Roseibacillus</text>
<rect x="491.20" y="309.01" width="43.20" height="3.45" fill="#4CAFC8"/>
<line x1="487.9" y1="310.73" x2="490.8" y2="310.73" stroke="#000" stroke-width="0.85" stroke-linecap="butt"/>
<text x="484.86" y="312.83" font-size="6.41" font-weight="normal" font-style="italic" text-anchor="end" fill="#222" stroke="#222" stroke-width="0.12">Bifidobacterium</text>
<rect x="491.20" y="314.70" width="42.10" height="3.45" fill="#4CAFC8"/>
<line x1="487.9" y1="316.43" x2="490.8" y2="316.43" stroke="#000" stroke-width="0.85" stroke-linecap="butt"/>
<text x="485.98" y="318.53" font-size="6.41" font-weight="normal" font-style="italic" text-anchor="end" fill="#222" stroke="#222" stroke-width="0.12">Eubacterium Q</text>
<rect x="491.20" y="320.40" width="40.60" height="3.45" fill="#4CAFC8"/>
<line x1="487.9" y1="322.13" x2="490.8" y2="322.13" stroke="#000" stroke-width="0.85" stroke-linecap="butt"/>
<text x="485.98" y="324.23" font-size="6.41" font-weight="normal" font-style="italic" text-anchor="end" fill="#222" stroke="#222" stroke-width="0.12">Bacteroidalenoname</text>
<rect x="491.20" y="326.10" width="37.90" height="3.45" fill="#4CAFC8"/>
<line x1="487.9" y1="327.82" x2="490.8" y2="327.82" stroke="#000" stroke-width="0.85" stroke-linecap="butt"/>
<text x="485.98" y="329.92" font-size="6.41" font-weight="normal" font-style="italic" text-anchor="end" fill="#222" stroke="#222" stroke-width="0.12">Oscillibacter</text>
<rect x="491.20" y="331.79" width="37.90" height="3.45" fill="#4CAFC8"/>
<line x1="487.9" y1="333.52" x2="490.8" y2="333.52" stroke="#000" stroke-width="0.85" stroke-linecap="butt"/>
<text x="487.11" y="335.62" font-size="6.41" font-weight="normal" font-style="italic" text-anchor="end" fill="#222" stroke="#222" stroke-width="0.12">Phascolarctobacterium</text>
<rect x="491.20" y="337.49" width="37.40" height="3.45" fill="#4CAFC8"/>
<line x1="487.9" y1="339.21" x2="490.8" y2="339.21" stroke="#000" stroke-width="0.85" stroke-linecap="butt"/>
<text x="486.47" y="341.31" font-size="6.41" font-weight="normal" font-style="italic" text-anchor="end" fill="#222" stroke="#222" stroke-width="0.12">Barnesiella</text>
<rect x="491.20" y="343.18" width="36.90" height="3.45" fill="#4CAFC8"/>
<line x1="487.9" y1="344.91" x2="490.8" y2="344.91" stroke="#000" stroke-width="0.85" stroke-linecap="butt"/>
<text x="485.98" y="347.01" font-size="6.41" font-weight="normal" font-style="italic" text-anchor="end" fill="#222" stroke="#222" stroke-width="0.12">Bacteroides</text>
<rect x="491.20" y="348.88" width="35.80" height="3.45" fill="#4CAFC8"/>
<line x1="487.9" y1="350.61" x2="490.8" y2="350.61" stroke="#000" stroke-width="0.85" stroke-linecap="butt"/>
<text x="485.5" y="352.71" font-size="6.41" font-weight="normal" font-style="italic" text-anchor="end" fill="#222" stroke="#222" stroke-width="0.12">Sutterella</text>
<rect x="491.20" y="354.58" width="31.90" height="3.45" fill="#4CAFC8"/>
<line x1="487.9" y1="356.3" x2="490.8" y2="356.3" stroke="#000" stroke-width="0.85" stroke-linecap="butt"/>
<text x="485.5" y="358.4" font-size="6.41" font-weight="normal" font-style="italic" text-anchor="end" fill="#222" stroke="#222" stroke-width="0.12">Subdoligranulum</text>
<rect x="491.20" y="360.27" width="31.40" height="3.45" fill="#4CAFC8"/>
<line x1="487.9" y1="362.0" x2="490.8" y2="362.0" stroke="#000" stroke-width="0.85" stroke-linecap="butt"/>
<text x="487.59" y="364.1" font-size="6.41" font-weight="normal" font-style="italic" text-anchor="end" fill="#222" stroke="#222" stroke-width="0.12">Parabacteroides</text>
<rect x="491.20" y="365.97" width="28.20" height="3.45" fill="#4CAFC8"/>
<line x1="487.9" y1="367.69" x2="490.8" y2="367.69" stroke="#000" stroke-width="0.85" stroke-linecap="butt"/>
<text x="487.11" y="369.79" font-size="6.41" font-weight="normal" font-style="italic" text-anchor="end" fill="#222" stroke="#222" stroke-width="0.12">Lachnospiraceae FCS020 group</text>
<rect x="491.20" y="371.66" width="28.00" height="3.45" fill="#4CAFC8"/>
<line x1="487.9" y1="373.39" x2="490.8" y2="373.39" stroke="#000" stroke-width="0.85" stroke-linecap="butt"/>
<text x="483.57" y="375.49" font-size="6.41" font-weight="normal" font-style="italic" text-anchor="end" fill="#222" stroke="#222" stroke-width="0.12">Ruminiclostridium 9</text>
<rect x="491.20" y="377.36" width="28.00" height="3.45" fill="#4CAFC8"/>
<line x1="487.9" y1="379.09" x2="490.8" y2="379.09" stroke="#000" stroke-width="0.85" stroke-linecap="butt"/>
<text x="486.79" y="381.19" font-size="6.41" font-weight="normal" font-style="italic" text-anchor="end" fill="#222" stroke="#222" stroke-width="0.12">Faecalibacterium</text>
<rect x="491.20" y="383.06" width="27.20" height="3.45" fill="#4CAFC8"/>
<line x1="487.9" y1="384.78" x2="490.8" y2="384.78" stroke="#000" stroke-width="0.85" stroke-linecap="butt"/>
<text x="484.86" y="386.88" font-size="6.41" font-weight="normal" font-style="italic" text-anchor="end" fill="#222" stroke="#222" stroke-width="0.12">Alistipes</text>
<rect x="491.20" y="388.75" width="23.80" height="3.45" fill="#4CAFC8"/>
<line x1="487.9" y1="390.48" x2="490.8" y2="390.48" stroke="#000" stroke-width="0.85" stroke-linecap="butt"/>
<text x="485.98" y="392.58" font-size="6.41" font-weight="normal" font-style="italic" text-anchor="end" fill="#222" stroke="#222" stroke-width="0.12">Erysipelatoclostridium</text>
<rect x="491.20" y="394.45" width="22.20" height="3.45" fill="#4CAFC8"/>
<line x1="487.9" y1="396.17" x2="490.8" y2="396.17" stroke="#000" stroke-width="0.85" stroke-linecap="butt"/>
<text x="484.86" y="398.27" font-size="6.41" font-weight="normal" font-style="italic" text-anchor="end" fill="#222" stroke="#222" stroke-width="0.12">Akkermansia</text>
<rect x="491.20" y="400.14" width="21.40" height="3.45" fill="#4CAFC8"/>
<line x1="487.9" y1="401.87" x2="490.8" y2="401.87" stroke="#000" stroke-width="0.85" stroke-linecap="butt"/>
<text x="484.86" y="403.97" font-size="6.41" font-weight="normal" font-style="italic" text-anchor="end" fill="#222" stroke="#222" stroke-width="0.12">Clostridium sensu stricto 1</text>
<rect x="491.20" y="405.84" width="17.70" height="3.45" fill="#4CAFC8"/>
<line x1="487.9" y1="407.57" x2="490.8" y2="407.57" stroke="#000" stroke-width="0.85" stroke-linecap="butt"/>
<text x="487.11" y="409.67" font-size="6.41" font-weight="normal" font-style="italic" text-anchor="end" fill="#222" stroke="#222" stroke-width="0.12">Christensenellaceae R7 group</text>
<rect x="491.20" y="411.54" width="15.60" height="3.45" fill="#4CAFC8"/>
<line x1="487.9" y1="413.26" x2="490.8" y2="413.26" stroke="#000" stroke-width="0.85" stroke-linecap="butt"/>
<text x="486.79" y="415.36" font-size="6.41" font-weight="normal" font-style="italic" text-anchor="end" fill="#222" stroke="#222" stroke-width="0.12">Erysipelotrichaceae UC003</text>
<rect x="491.20" y="417.23" width="15.60" height="3.45" fill="#4CAFC8"/>
<line x1="487.9" y1="418.96" x2="490.8" y2="418.96" stroke="#000" stroke-width="0.85" stroke-linecap="butt"/>
<text x="486.79" y="421.06" font-size="6.41" font-weight="normal" font-style="italic" text-anchor="end" fill="#222" stroke="#222" stroke-width="0.12">Lachnospiraceae UC004</text>
<rect x="491.20" y="422.93" width="15.10" height="3.45" fill="#4CAFC8"/>
<line x1="487.9" y1="424.65" x2="490.8" y2="424.65" stroke="#000" stroke-width="0.85" stroke-linecap="butt"/>
<text x="485.18" y="426.75" font-size="6.41" font-weight="normal" font-style="italic" text-anchor="end" fill="#222" stroke="#222" stroke-width="0.12">Lachnoclostridium</text>
<rect x="491.20" y="428.62" width="14.80" height="3.45" fill="#4CAFC8"/>
<line x1="487.9" y1="430.35" x2="490.8" y2="430.35" stroke="#000" stroke-width="0.85" stroke-linecap="butt"/>
<text x="485.5" y="432.45" font-size="6.41" font-weight="normal" font-style="italic" text-anchor="end" fill="#222" stroke="#222" stroke-width="0.12">Blautia</text>
<rect x="491.20" y="434.32" width="88.10" height="3.45" fill="#2F9A86"/>
<line x1="487.9" y1="436.05" x2="490.8" y2="436.05" stroke="#000" stroke-width="0.85" stroke-linecap="butt"/>
<text x="487.59" y="438.15" font-size="6.41" font-weight="normal" font-style="italic" text-anchor="end" fill="#222" stroke="#222" stroke-width="0.12">Fibrobacteraceae</text>
<rect x="491.20" y="440.02" width="60.00" height="3.45" fill="#2F9A86"/>
<line x1="487.9" y1="441.74" x2="490.8" y2="441.74" stroke="#000" stroke-width="0.85" stroke-linecap="butt"/>
<text x="487.11" y="443.84" font-size="6.41" font-weight="normal" font-style="italic" text-anchor="end" fill="#222" stroke="#222" stroke-width="0.12">Turicibacteraceae</text>
<rect x="491.20" y="445.71" width="46.60" height="3.45" fill="#2F9A86"/>
<line x1="487.9" y1="447.44" x2="490.8" y2="447.44" stroke="#000" stroke-width="0.85" stroke-linecap="butt"/>
<text x="486.47" y="449.54" font-size="6.41" font-weight="normal" font-style="italic" text-anchor="end" fill="#222" stroke="#222" stroke-width="0.12">Bifidobacteriaceae</text>
<rect x="491.20" y="451.41" width="43.20" height="3.45" fill="#2F9A86"/>
<line x1="487.9" y1="453.13" x2="490.8" y2="453.13" stroke="#000" stroke-width="0.85" stroke-linecap="butt"/>
<text x="485.98" y="455.23" font-size="6.41" font-weight="normal" font-style="italic" text-anchor="end" fill="#222" stroke="#222" stroke-width="0.12">Alteromonadaceae</text>
<rect x="491.20" y="457.10" width="39.00" height="3.45" fill="#2F9A86"/>
<line x1="487.9" y1="458.83" x2="490.8" y2="458.83" stroke="#000" stroke-width="0.85" stroke-linecap="butt"/>
<text x="485.98" y="460.93" font-size="6.41" font-weight="normal" font-style="italic" text-anchor="end" fill="#222" stroke="#222" stroke-width="0.12">Ezakiellaceae</text>
<rect x="491.20" y="462.80" width="37.90" height="3.45" fill="#2F9A86"/>
<line x1="487.9" y1="464.53" x2="490.8" y2="464.53" stroke="#000" stroke-width="0.85" stroke-linecap="butt"/>
<text x="486.47" y="466.63" font-size="6.41" font-weight="normal" font-style="italic" text-anchor="end" fill="#222" stroke="#222" stroke-width="0.12">Oscillospiraceae</text>
<rect x="491.20" y="468.50" width="29.30" height="3.45" fill="#2F9A86"/>
<line x1="487.9" y1="470.22" x2="490.8" y2="470.22" stroke="#000" stroke-width="0.85" stroke-linecap="butt"/>
<text x="487.11" y="472.32" font-size="6.41" font-weight="normal" font-style="italic" text-anchor="end" fill="#222" stroke="#222" stroke-width="0.12">Peptostreptococcaceae</text>
<rect x="491.20" y="474.19" width="29.00" height="3.45" fill="#2F9A86"/>
<line x1="487.9" y1="475.92" x2="490.8" y2="475.92" stroke="#000" stroke-width="0.85" stroke-linecap="butt"/>
<text x="485.18" y="478.02" font-size="6.41" font-weight="normal" font-style="italic" text-anchor="end" fill="#222" stroke="#222" stroke-width="0.12">Ruminococcaceae</text>
<rect x="491.20" y="479.89" width="24.80" height="3.45" fill="#2F9A86"/>
<line x1="487.9" y1="481.61" x2="490.8" y2="481.61" stroke="#000" stroke-width="0.85" stroke-linecap="butt"/>
<text x="485.98" y="483.71" font-size="6.41" font-weight="normal" font-style="italic" text-anchor="end" fill="#222" stroke="#222" stroke-width="0.12">Clostridiaceae 1</text>
<rect x="491.20" y="485.58" width="21.90" height="3.45" fill="#2F9A86"/>
<line x1="487.9" y1="487.31" x2="490.8" y2="487.31" stroke="#000" stroke-width="0.85" stroke-linecap="butt"/>
<text x="486.47" y="489.41" font-size="6.41" font-weight="normal" font-style="italic" text-anchor="end" fill="#222" stroke="#222" stroke-width="0.12">Verrucomicrobiaceae</text>
<rect x="491.20" y="491.28" width="13.50" height="3.45" fill="#2F9A86"/>
<line x1="487.9" y1="493.01" x2="490.8" y2="493.01" stroke="#000" stroke-width="0.85" stroke-linecap="butt"/>
<text x="487.11" y="495.11" font-size="6.41" font-weight="normal" font-style="italic" text-anchor="end" fill="#222" stroke="#222" stroke-width="0.12">Porphyromonadaceae</text>
<rect x="491.20" y="496.98" width="83.70" height="3.45" fill="#45578B"/>
<line x1="487.9" y1="498.7" x2="490.8" y2="498.7" stroke="#000" stroke-width="0.85" stroke-linecap="butt"/>
<text x="487.11" y="500.8" font-size="6.41" font-weight="normal" font-style="italic" text-anchor="end" fill="#222" stroke="#222" stroke-width="0.12">Fibrobacterales</text>
<rect x="491.20" y="502.67" width="56.10" height="3.45" fill="#45578B"/>
<line x1="487.9" y1="504.4" x2="490.8" y2="504.4" stroke="#000" stroke-width="0.85" stroke-linecap="butt"/>
<text x="486.47" y="506.5" font-size="6.41" font-weight="normal" font-style="italic" text-anchor="end" fill="#222" stroke="#222" stroke-width="0.12">Haloplasmatales</text>
<rect x="491.20" y="508.37" width="46.60" height="3.45" fill="#45578B"/>
<line x1="487.9" y1="510.09" x2="490.8" y2="510.09" stroke="#000" stroke-width="0.85" stroke-linecap="butt"/>
<text x="485.5" y="512.19" font-size="6.41" font-weight="normal" font-style="italic" text-anchor="end" fill="#222" stroke="#222" stroke-width="0.12">Bifidobacteriales</text>
<rect x="491.20" y="514.06" width="21.90" height="3.45" fill="#45578B"/>
<line x1="487.9" y1="515.79" x2="490.8" y2="515.79" stroke="#000" stroke-width="0.85" stroke-linecap="butt"/>
<text x="485.98" y="517.89" font-size="6.41" font-weight="normal" font-style="italic" text-anchor="end" fill="#222" stroke="#222" stroke-width="0.12">Verrucomicrobiales</text>
<rect x="491.20" y="519.76" width="91.00" height="3.45" fill="#EC9180"/>
<line x1="487.9" y1="521.49" x2="490.8" y2="521.49" stroke="#000" stroke-width="0.85" stroke-linecap="butt"/>
<text x="487.11" y="523.59" font-size="6.41" font-weight="normal" font-style="italic" text-anchor="end" fill="#222" stroke="#222" stroke-width="0.12">Fibrobacteria</text>
<rect x="491.20" y="525.46" width="24.80" height="3.45" fill="#EC9180"/>
<line x1="487.9" y1="527.18" x2="490.8" y2="527.18" stroke="#000" stroke-width="0.85" stroke-linecap="butt"/>
<text x="485.98" y="529.28" font-size="6.41" font-weight="normal" font-style="italic" text-anchor="end" fill="#222" stroke="#222" stroke-width="0.12">Actinobacteria</text>
<rect x="491.20" y="531.15" width="23.00" height="3.45" fill="#EC9180"/>
<line x1="487.9" y1="532.88" x2="490.8" y2="532.88" stroke="#000" stroke-width="0.85" stroke-linecap="butt"/>
<text x="487.11" y="534.98" font-size="6.41" font-weight="normal" font-style="italic" text-anchor="end" fill="#222" stroke="#222" stroke-width="0.12">Gammaproteobacteria</text>
<rect x="491.20" y="536.85" width="21.90" height="3.45" fill="#EC9180"/>
<line x1="487.9" y1="538.57" x2="490.8" y2="538.57" stroke="#000" stroke-width="0.85" stroke-linecap="butt"/>
<text x="485.98" y="540.67" font-size="6.41" font-weight="normal" font-style="italic" text-anchor="end" fill="#222" stroke="#222" stroke-width="0.12">Verrucomicrobiae</text>
<rect x="491.20" y="542.54" width="19.80" height="3.45" fill="#8390B5"/>
<line x1="487.9" y1="544.27" x2="490.8" y2="544.27" stroke="#000" stroke-width="0.85" stroke-linecap="butt"/>
<text x="485.98" y="546.37" font-size="6.41" font-weight="normal" font-style="italic" text-anchor="end" fill="#222" stroke="#222" stroke-width="0.12">Verrucomicrobia</text>
<polygon points="615.4,6.2 618.6,0 622.2,0 619.0,6.2" fill="#fff"/>
<line x1="490.8" y1="1.4" x2="490.8" y2="547.6" stroke="#000" stroke-width="1.35" stroke-linecap="butt"/>
<line x1="490.15000000000003" y1="546.95" x2="641.9" y2="546.95" stroke="#000" stroke-width="1.35" stroke-linecap="butt"/>
<polygon points="615.3,549 617.5,545 621.6,545 619.4,549" fill="#fff"/>
<line x1="614.3" y1="6.8" x2="618.1" y2="-0.6" stroke="#000" stroke-width="1.15" stroke-linecap="butt"/>
<line x1="618.2" y1="6.8" x2="622.0" y2="-0.6" stroke="#000" stroke-width="1.15" stroke-linecap="butt"/>
<line x1="614.4" y1="550.1" x2="617.8" y2="543.4" stroke="#000" stroke-width="1.15" stroke-linecap="butt"/>
<line x1="618.2" y1="550.1" x2="622.0" y2="543.4" stroke="#000" stroke-width="1.15" stroke-linecap="butt"/>
<line x1="506.0" y1="547.2" x2="506.0" y2="548.8" stroke="#222" stroke-width="0.7" stroke-linecap="butt"/>
<text x="504.2" y="557.5" font-size="9.3" font-weight="normal" font-style="normal" text-anchor="middle" fill="#1a1a1a" stroke="#1a1a1a" stroke-width="0.12">0.05</text>
<line x1="538.2" y1="547.2" x2="538.2" y2="548.8" stroke="#222" stroke-width="0.7" stroke-linecap="butt"/>
<text x="536.5" y="557.5" font-size="9.3" font-weight="normal" font-style="normal" text-anchor="middle" fill="#1a1a1a" stroke="#1a1a1a" stroke-width="0.12">0.15</text>
<line x1="570.3" y1="547.2" x2="570.3" y2="548.8" stroke="#222" stroke-width="0.7" stroke-linecap="butt"/>
<text x="568.4" y="557.5" font-size="9.3" font-weight="normal" font-style="normal" text-anchor="middle" fill="#1a1a1a" stroke="#1a1a1a" stroke-width="0.12">0.25</text>
<line x1="602.3" y1="547.2" x2="602.3" y2="548.8" stroke="#222" stroke-width="0.7" stroke-linecap="butt"/>
<text x="600.1" y="557.5" font-size="9.3" font-weight="normal" font-style="normal" text-anchor="middle" fill="#1a1a1a" stroke="#1a1a1a" stroke-width="0.12">0.35</text>
<line x1="634.2" y1="547.2" x2="634.2" y2="548.8" stroke="#222" stroke-width="0.7" stroke-linecap="butt"/>
<text x="632.5" y="557.5" font-size="9.3" font-weight="normal" font-style="normal" text-anchor="middle" fill="#1a1a1a" stroke="#1a1a1a" stroke-width="0.12">0.80</text>
<text x="569.1" y="567.9" font-size="12.8" font-weight="bold" font-style="normal" text-anchor="middle" fill="#000">Heritability</text>
<text x="630.1" y="224.6" font-size="10.0" font-weight="bold" font-style="normal" text-anchor="start" fill="#000">Taxonomy</text>
<rect x="630.70" y="231.90" width="13.00" height="13.00" fill="#DB5040"/>
<text x="649.9" y="241.7" font-size="8.35" font-weight="bold" font-style="normal" text-anchor="start" fill="#000" stroke="#000" stroke-width="0.2">Species</text>
<rect x="630.70" y="246.55" width="13.00" height="13.00" fill="#4CAFC8"/>
<text x="649.9" y="256.35" font-size="8.35" font-weight="bold" font-style="normal" text-anchor="start" fill="#000" stroke="#000" stroke-width="0.2">Genus</text>
<rect x="630.70" y="261.20" width="13.00" height="13.00" fill="#2F9A86"/>
<text x="649.9" y="271.0" font-size="8.35" font-weight="bold" font-style="normal" text-anchor="start" fill="#000" stroke="#000" stroke-width="0.2">Family</text>
<rect x="630.70" y="275.85" width="13.00" height="13.00" fill="#45578B"/>
<text x="649.9" y="285.65" font-size="8.35" font-weight="bold" font-style="normal" text-anchor="start" fill="#000" stroke="#000" stroke-width="0.2">Order</text>
<rect x="630.70" y="290.50" width="13.00" height="13.00" fill="#EC9180"/>
<text x="649.9" y="300.3" font-size="8.35" font-weight="bold" font-style="normal" text-anchor="start" fill="#000" stroke="#000" stroke-width="0.2">Class</text>
<rect x="630.70" y="305.15" width="13.00" height="13.00" fill="#8390B5"/>
<text x="649.9" y="314.95" font-size="8.35" font-weight="bold" font-style="normal" text-anchor="start" fill="#000" stroke="#000" stroke-width="0.2">Phylum</text>
</g>
</svg>
</body>
</html>
